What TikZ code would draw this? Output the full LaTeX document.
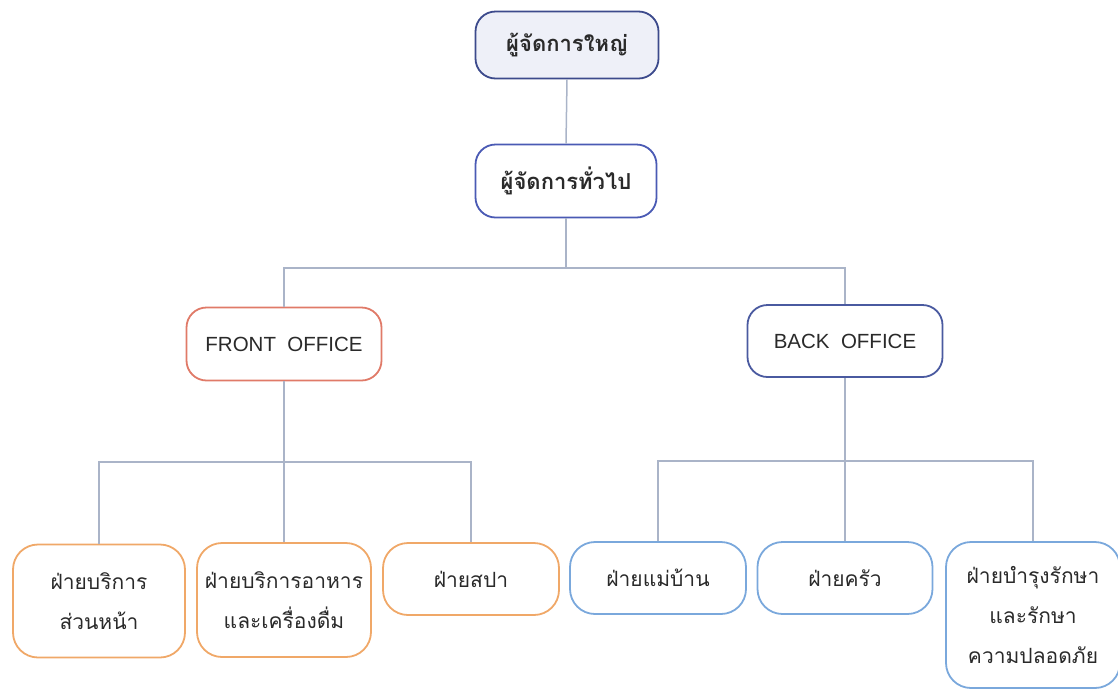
\documentclass[tikz,border=0pt]{standalone}
\usepackage{fontspec}
\setmainfont{Liberation Sans}
\newfontfamily\thai[Script=Thai]{Loma}
\definecolor{lnk}{HTML}{AAB4C8}
\definecolor{txt}{HTML}{2A2A2A}
\definecolor{gmfill}{HTML}{EEF0F8}
\definecolor{gmdraw}{HTML}{3C4A8C}
\definecolor{gendraw}{HTML}{4A5AB4}
\definecolor{frontdraw}{HTML}{E07A68}
\definecolor{backdraw}{HTML}{4A5AA0}
\definecolor{orgdraw}{HTML}{F0A868}
\definecolor{bluedraw}{HTML}{7AA8DC}
\tikzset{
  box/.style={rectangle, rounded corners=20pt, line width=1.8pt, fill=white, text=txt, align=center, inner sep=0pt},
  topbox/.style={box, font=\thai\bfseries\fontsize{22}{26}\selectfont},
  offbox/.style={box, font=\fontsize{20.5}{24}\selectfont},
  leafbox/.style={box, rounded corners=25pt, font=\thai\fontsize{21}{40}\selectfont},
  link/.style={draw=lnk, line width=1.5pt}
}
\begin{document}
\begin{tikzpicture}[x=1pt,y=-1pt]
\useasboundingbox (0,0) rectangle (1118,689);
\node[topbox, draw=gmdraw, fill=gmfill, minimum width=183pt, minimum height=67pt] (gm) at (567,45) {ผู้จัดการใหญ่};
\node[topbox, draw=gendraw, minimum width=181pt, minimum height=73pt] (gen) at (566,181) {ผู้จัดการทั่วไป};
\node[offbox, draw=frontdraw, minimum width=195pt, minimum height=73pt] (front) at (284,344) {FRONT\ \ OFFICE};
\node[offbox, draw=backdraw, minimum width=195pt, minimum height=72pt] (back) at (845,341) {BACK\ \ OFFICE};
\node[leafbox, draw=orgdraw, minimum width=172pt, minimum height=113pt] (c1) at (99,601) {ฝ่ายบริการ\\ส่วนหน้า};
\node[leafbox, draw=orgdraw, minimum width=174pt, minimum height=114pt] (c2) at (284,600) {ฝ่ายบริการอาหาร\\และเครื่องดื่ม};
\node[leafbox, draw=orgdraw, minimum width=176pt, minimum height=72pt] (c3) at (471,579) {ฝ่ายสปา};
\node[leafbox, draw=bluedraw, minimum width=176pt, minimum height=72pt] (c4) at (658,578) {ฝ่ายแม่บ้าน};
\node[leafbox, draw=bluedraw, minimum width=175pt, minimum height=72pt] (c5) at (845,578) {ฝ่ายครัว};
\node[leafbox, draw=bluedraw, minimum width=174pt, minimum height=146pt] (c6) at (1033,615) {ฝ่ายบำรุงรักษา\\และรักษา\\ความปลอดภัย};
\coordinate (j1) at (566,268);
\coordinate (j2) at (284,462);
\coordinate (j3) at (845,461);
\draw[link] (gm.south) -- (gen.north);
\draw[link] (gen.south) -- (j1);
\draw[link] (front.north) -- (front.north |- j1) -- (back.north |- j1) -- (back.north);
\draw[link] (front.south) -- (c2.north);
\draw[link] (c1.north) -- (c1.north |- j2) -- (c3.north |- j2) -- (c3.north);
\draw[link] (back.south) -- (c5.north);
\draw[link] (c4.north) -- (c4.north |- j3) -- (c6.north |- j3) -- (c6.north);
\end{tikzpicture}
\end{document}
